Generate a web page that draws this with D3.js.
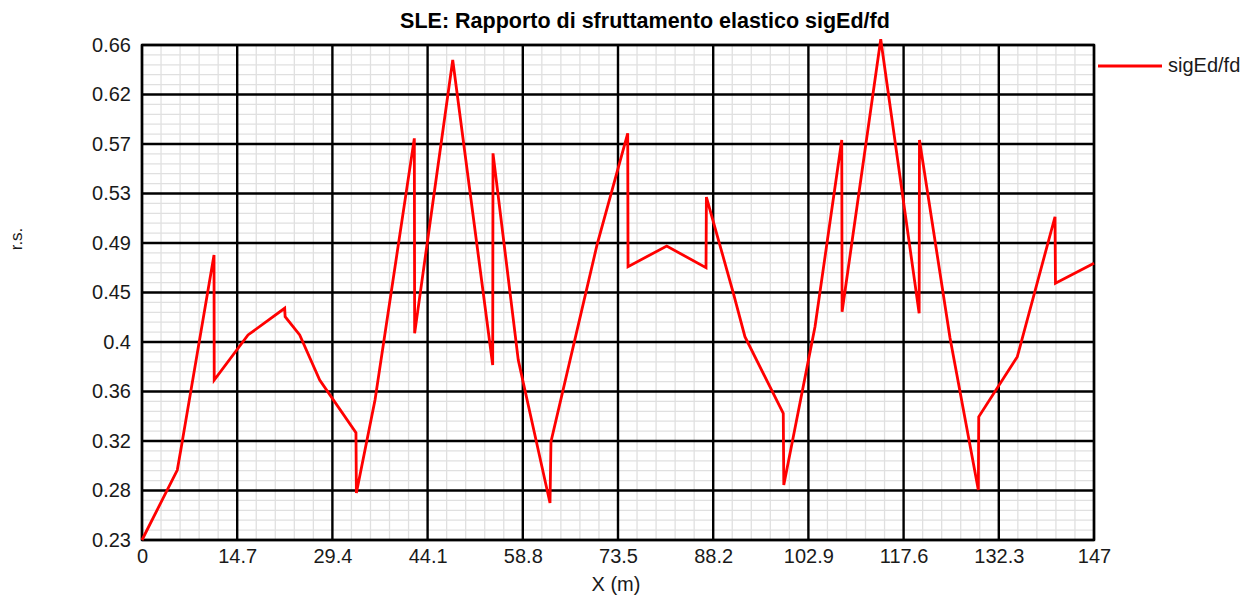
<!DOCTYPE html>
<html>
<head>
<meta charset="utf-8">
<script src="https://cdn.jsdelivr.net/npm/d3@7"></script>
<style>
  html, body { margin: 0; padding: 0; background: #fff; }
  svg { display: block; font-family: "Liberation Sans", Arial, sans-serif; }
</style>
</head>
<body>
<svg id="chart" width="1246" height="596"></svg>
<script>
// ---- data ----
const xTickLabels = ["0","14.7","29.4","44.1","58.8","73.5","88.2","102.9","117.6","132.3","147"];
const yTickLabels = ["0.23","0.28","0.32","0.36","0.4","0.45","0.49","0.53","0.57","0.62","0.66"];
const xValues = [0, 5.45, 6.07, 11.12, 11.15, 16.37, 22.03, 22.1, 24.35, 27.44, 33.04, 33.1, 35.98, 42.05, 42.1,
  47.98, 54.15, 54.2, 58.1, 63.0, 63.15, 70.26, 75.0, 75.05, 81.02, 87.09, 87.15, 91.32, 93.1, 99.02, 99.1,
  103.92, 108.05, 108.1, 114.07, 120.0, 120.05, 124.77, 129.14, 129.2, 135.16, 140.98, 141.05, 147.0];
const yValues = [0.23, 0.2908, 0.3108, 0.4776, 0.369, 0.4081, 0.4313, 0.424, 0.4081, 0.369, 0.3232, 0.2708, 0.3516, 0.5789, 0.4095,
  0.647, 0.382, 0.5659, 0.3863, 0.2621, 0.3154, 0.4863, 0.5833, 0.4674, 0.4854, 0.4665, 0.5279, 0.4443, 0.4066, 0.34, 0.2778,
  0.4153, 0.5775, 0.4283, 0.665, 0.4269, 0.5775, 0.4054, 0.2734, 0.337, 0.3892, 0.5108, 0.453, 0.4704];
const seriesName = "sigEd/fd";
const titleText = "SLE: Rapporto di sfruttamento elastico sigEd/fd";
const xAxisTitle = "X (m)";
const yAxisTitle = "r.s.";

// ---- layout ----
const svg = d3.select("#chart");
const L = 142, R = 1094, T = 45, B = 540;
const xMin = 0, xMax = 147, yMin = 0.23, yMax = 0.66;

const x = d3.scaleLinear().domain([xMin, xMax]).range([L, R]);
const y = d3.scaleLinear().domain([yMin, yMax]).range([B, T]);

const nMajor = 10, nMinor = 5;
const xMajor = d3.range(nMajor + 1).map(i => xMin + i * (xMax - xMin) / nMajor);
const yMajor = d3.range(nMajor + 1).map(i => yMin + i * (yMax - yMin) / nMajor);
const xMinorV = d3.range(nMajor * nMinor + 1).filter(i => i % nMinor).map(i => xMin + i * (xMax - xMin) / (nMajor * nMinor));
const yMinorV = d3.range(nMajor * nMinor + 1).filter(i => i % nMinor).map(i => yMin + i * (yMax - yMin) / (nMajor * nMinor));

// minor grid
const g = svg.append("g");
g.selectAll("line.xm").data(xMinorV).join("line")
  .attr("x1", d => x(d)).attr("x2", d => x(d)).attr("y1", T).attr("y2", B)
  .attr("stroke", "#e0e0e0").attr("stroke-width", 1.3);
g.selectAll("line.ym").data(yMinorV).join("line")
  .attr("y1", d => y(d)).attr("y2", d => y(d)).attr("x1", L).attr("x2", R)
  .attr("stroke", "#e0e0e0").attr("stroke-width", 1.3);
// major grid
g.selectAll("line.xM").data(xMajor).join("line")
  .attr("x1", d => x(d)).attr("x2", d => x(d)).attr("y1", T).attr("y2", B)
  .attr("stroke", "#000").attr("stroke-width", 2.4);
g.selectAll("line.yM").data(yMajor).join("line")
  .attr("y1", d => y(d)).attr("y2", d => y(d)).attr("x1", L).attr("x2", R)
  .attr("stroke", "#000").attr("stroke-width", 2.4);
// border
svg.append("rect").attr("x", L).attr("y", T).attr("width", R - L).attr("height", B - T)
  .attr("fill", "none").attr("stroke", "#000").attr("stroke-width", 2.4);

// axes (labels)
const xAxis = d3.axisBottom(x).tickValues(xMajor).tickSize(0).tickPadding(9)
  .tickFormat((d, i) => xTickLabels[i]);
const yAxis = d3.axisLeft(y).tickValues(yMajor).tickSize(0).tickPadding(11)
  .tickFormat((d, i) => yTickLabels[i]);
const gx = svg.append("g").attr("transform", `translate(0,${B})`).call(xAxis);
const gy = svg.append("g").attr("transform", `translate(${L},0)`).call(yAxis);
[gx, gy].forEach(a => {
  a.select(".domain").remove();
  a.selectAll("text").attr("font-size", 20).attr("fill", "#1a1a1a")
    .attr("font-family", "'Liberation Sans', Arial, sans-serif");
});

// line
const pts = xValues.map((v, i) => [v, yValues[i]]);
svg.append("path").datum(pts)
  .attr("d", d3.line().x(d => x(d[0])).y(d => y(d[1])))
  .attr("fill", "none").attr("stroke", "#ff0000").attr("stroke-width", 2.8)
  .attr("stroke-linejoin", "miter").attr("stroke-miterlimit", 4);

// title
svg.append("text").attr("x", 645).attr("y", 28).attr("text-anchor", "middle")
  .attr("font-size", 21.5).attr("font-weight", "bold").attr("fill", "#000").text(titleText);
// axis titles
svg.append("text").attr("x", 616).attr("y", 591).attr("text-anchor", "middle")
  .attr("font-size", 20).attr("fill", "#1a1a1a").text(xAxisTitle);
svg.append("text").attr("transform", "translate(22,239) rotate(-90)").attr("text-anchor", "middle")
  .attr("font-size", 17).attr("fill", "#1a1a1a").text(yAxisTitle);

// legend
svg.append("line").attr("x1", 1098).attr("x2", 1162).attr("y1", 66).attr("y2", 66)
  .attr("stroke", "#ff0000").attr("stroke-width", 2.8);
svg.append("text").attr("x", 1168).attr("y", 72).attr("font-size", 20)
  .attr("fill", "#1a1a1a").text(seriesName);
</script>
</body>
</html>
